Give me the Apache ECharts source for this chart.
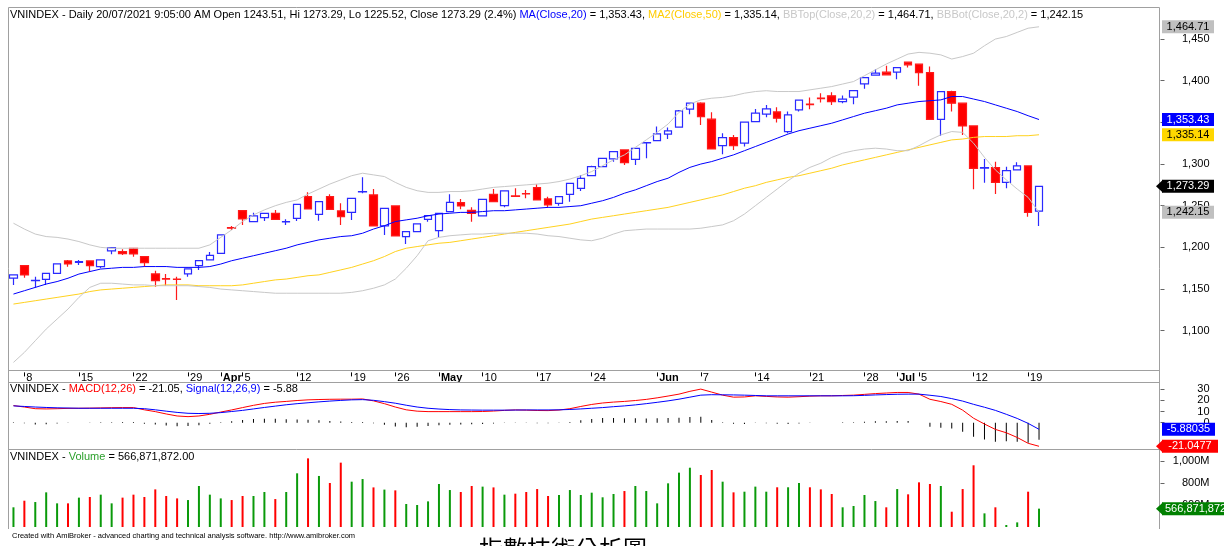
<!DOCTYPE html>
<html><head><meta charset="utf-8">
<script src="https://cdn.jsdelivr.net/npm/echarts@6/dist/echarts.min.js"></script>
<style>html,body{margin:0;padding:0;background:#fff}#c{width:1224px;height:546px}</style>
</head><body><div id="c"></div>
<script>
// ---- trading days (2021) ----
const marDays=[5,8,9,10,11,12,15,16,17,18,19,22,23,24,25,26,29,30,31];
const aprDays=[1,2,5,6,7,8,9,12,13,14,15,16,19,20,22,23,26,27,28,29];
const mayDays=[4,5,6,7,10,11,12,13,14,17,18,19,20,21,24,25,26,27,28,31];
const junDays=[1,2,3,4,7,8,9,10,11,14,15,16,17,18,21,22,23,24,25,28,29,30];
const julDays=[1,2,5,6,7,8,9,12,13,14,15,16,19,20];
// ---- x-axis tick labels ----
const tickDates=['03-08','03-15','03-22','03-29','04-01','04-05','04-12','04-19','04-26','05-04','05-10','05-17','05-24','06-01','06-07','06-14','06-21','06-28','07-01','07-05','07-12','07-19'];
const tickText=['8','15','22','29','Apr','5','12','19','26','May','10','17','24','Jun','7','14','21','28','Jul','5','12','19'];
// ---- OHLC ----
const openP=[1163,1178.1,1160,1161.7,1168.9,1183.7,1182,1183.7,1176.9,1195.7,1194.9,1198.9,1188.9,1168.1,1162.5,1162,1168.1,1178.1,1184.9,1192.9,1223.8,1244.1,1230.9,1235.7,1240.9,1230.5,1234.9,1260.9,1239.7,1260.9,1243.7,1242.1,1266.5,1262.9,1225.7,1249.7,1212.9,1218.9,1233.7,1220.1,1242.9,1253.7,1244.5,1237.7,1263.7,1250.1,1261.7,1264.5,1271.7,1258.1,1252.9,1263.7,1270.9,1286.1,1296.9,1306.1,1316.9,1305.7,1325.5,1328.1,1335.8,1344.2,1365.8,1373,1353.8,1322.1,1331.7,1325,1351,1359.8,1362.6,1339,1365,1371.8,1379,1381.8,1375,1380.2,1396.2,1406.6,1410.2,1410.2,1422.2,1419.8,1409.8,1353.7,1387,1373,1345.7,1295,1295.7,1278.1,1292.9,1297.7,1243.51];
const highP=[1167.5,1179,1164.9,1169,1181,1184.9,1185,1184.2,1185.3,1199.9,1197.7,1199.7,1189.7,1172.1,1168.1,1164.9,1174.5,1184.5,1194.5,1215.5,1225.7,1245,1241.7,1241.5,1244.9,1233.7,1252.5,1266.1,1255.3,1263.7,1252.9,1259.3,1284.1,1270.1,1247.3,1250.1,1219.3,1228.5,1238.9,1241.7,1263.7,1258.1,1248.1,1258.5,1270.1,1268.5,1270.9,1268.9,1275.7,1260.9,1261.3,1277.3,1286.9,1297.9,1307.7,1315.5,1317.7,1319.3,1326.1,1345,1343.8,1365,1373.4,1374.2,1362.2,1336.9,1335,1350.6,1366.2,1371,1368.2,1363,1377,1379.8,1385,1386.2,1382.2,1388.6,1404.2,1413.8,1417.8,1416.2,1423,1420.2,1417,1387.4,1387.8,1373.4,1346.1,1306.1,1302.9,1296.9,1302.1,1298.1,1273.29];
const lowP=[1155,1163.7,1151.7,1154.9,1168.5,1176.9,1179,1170.9,1174.9,1191.7,1190.9,1188.9,1176.9,1152.9,1153.7,1136.9,1164.9,1172.9,1184.5,1192.5,1220.9,1226.9,1230.5,1231.7,1233,1226.9,1231.7,1245.7,1232.1,1245.3,1226.9,1232.9,1264.9,1225.3,1214.9,1213.3,1204.1,1218.5,1230.9,1212.1,1242.5,1245.7,1230.9,1237.3,1254.1,1248.1,1261,1258.9,1256.5,1248.1,1250.1,1254.9,1267.7,1285.7,1296.5,1302.9,1298.9,1298.9,1306.9,1327.7,1330.1,1343.8,1359.8,1347,1317.7,1311.7,1316.9,1321,1350.6,1356.2,1349.8,1337,1363,1365.8,1373.8,1371,1373,1371.8,1390.2,1406.2,1406.6,1401.8,1415.8,1393.8,1353.3,1334.1,1363,1334.9,1269.7,1277.7,1264.1,1270.9,1292.5,1236.9,1225.52];
const closeP=[1167,1166.9,1160.3,1168.9,1180.1,1180.1,1183,1178.1,1184.9,1199.7,1192.5,1192.1,1181.7,1160.1,1162,1161.5,1174.1,1184.1,1190.5,1214.9,1223,1234.1,1237.7,1240.9,1233.7,1231,1251.7,1246.1,1254.9,1245.7,1236.9,1258.9,1266.8,1225.7,1246.9,1213.7,1218.9,1228.1,1238.1,1240.9,1254.1,1249.7,1240.9,1257.7,1254.9,1267.7,1261.3,1264.1,1256.9,1250.9,1260.9,1276.9,1282.9,1296.9,1306.9,1314.9,1301.7,1318.9,1325.8,1336.1,1339.8,1363.8,1373,1357,1318.1,1331.7,1322.1,1350.2,1361,1366.2,1355,1359,1376.6,1371.4,1378.6,1375,1377.8,1388.2,1403.8,1409,1407,1415.8,1419,1409.8,1353.7,1387,1373,1345.7,1294.9,1295.7,1278.1,1292.1,1297.7,1242.1,1273.29];
const headerChangePct='2.4';
// ---- indicator lines ----
const ma20=[1144,1148,1152,1156,1159,1163,1168,1171,1174,1175,1176,1176,1177,1177,1177,1176,1176,1176,1177,1180,1184,1187,1190,1193,1196,1199,1203,1206,1209,1211,1213,1214,1217,1222,1226,1231,1233,1235,1238,1240,1241,1242,1242,1243,1244,1244,1245,1246,1247,1248,1248,1249,1250,1253,1256,1260,1265,1269,1274,1279,1283,1290,1296,1300,1303,1307,1311,1316,1321,1326,1331,1336,1340,1343,1346,1349,1353,1357,1361,1364,1367,1371,1373,1375,1376,1377,1381,1381,1378,1375,1371,1367,1363,1358,1353.43];
const ma50=[1132,1134,1136,1138,1140,1142,1144,1147,1149,1150,1151,1152,1153,1154,1155,1155,1155,1154,1154,1154,1154,1155,1157,1159,1161,1162,1164,1166,1167,1170,1173,1176,1180,1184,1189,1195,1199,1201,1203,1205,1206,1208,1210,1212,1214,1216,1218,1220,1222,1224,1226,1228,1231,1234,1236,1238,1240,1242,1244,1246,1248,1251,1254,1257,1260,1263,1267,1271,1274,1278,1281,1284,1286,1289,1292,1295,1299,1302,1305,1308,1311,1314,1317,1320,1323,1326,1329,1330,1332,1333,1333,1333,1334,1334,1335.14];
const bbTop=[1229,1222,1216,1213,1212,1210,1207,1203,1200,1199,1199,1199,1199,1199,1199,1199,1199,1199,1203,1212,1221,1231,1239,1245,1250,1254,1257,1264,1270,1276,1281,1286,1289,1287,1285,1278,1272,1268,1266,1266,1267,1267,1268,1270,1272,1273,1274,1275,1276,1277,1279,1282,1286,1291,1298,1305,1311,1320,1329,1338,1348,1362,1372,1377,1379,1380,1382,1385,1387,1388,1387,1387,1387,1389,1391,1393,1396,1399,1406,1413,1420,1426,1432,1434,1433,1431,1426,1429,1433,1442,1450,1453,1458,1463,1464.71];
const bbBot=[1062,1074,1088,1102,1114,1126,1140,1152,1157,1157,1156,1155,1155,1154,1154,1154,1154,1153,1152,1150,1149,1148,1147,1146,1145,1145,1145,1145,1145,1145,1145,1146,1148,1151,1155,1162,1175,1190,1208,1212,1214,1215,1216,1216,1217,1217,1217,1217,1216,1214,1213,1211,1209,1208,1211,1216,1220,1221,1222,1222,1222,1222,1222,1223,1225,1227,1232,1240,1250,1260,1270,1280,1289,1296,1301,1308,1313,1316,1318,1319,1318,1316,1316,1322,1329,1335,1339,1338,1325,1308,1293,1281,1270,1260,1242.15];
// ---- MACD panel ----
const macdLine=[15.3,14,12.5,12.3,12.5,12.8,12.9,13,13.2,13.4,13.5,13.5,11.5,9.9,7.8,6,5.4,6,7.5,9.5,11.4,13.5,15.5,17.2,18.3,19,19.8,20.4,20.7,20.9,21,21,21.2,19.5,17,14,11.5,10.3,9.9,9.9,9.9,9.9,9.9,10,10.4,11,11.4,11.2,10.9,10.8,11.3,12.5,14.5,16.3,17.6,18.4,19,19.8,20.8,22.2,23.8,25.5,28,30,27.3,24.6,22.8,23,24,23.5,23,22.8,23.2,23.7,24,24,24.3,24.6,25.3,26,26.5,27,27,25.5,20.9,18.9,16.4,11.2,4,-1.2,-6,-9,-13.2,-18.4,-21.0477];
const signalLine=[15,14.5,14,13.6,13.3,13.1,12.9,12.9,12.9,12.9,12.9,12.9,12.5,11.5,10.3,9.2,8.4,8.2,8.4,9,10,11,12.3,13.6,14.8,16,17,17.8,18.6,19.3,19.9,20.4,20.6,20,18.8,17.4,15.6,14,12.9,12.2,11.7,11.4,11.3,11.2,11.2,11.2,11.3,11.4,11.4,11.4,11.5,11.8,12.3,12.9,13.5,14.3,15,15.9,17,18.2,19.5,21,22.8,24.6,25,24.9,24.8,24.6,24.3,24,24,24,24,24,24,24,24,24.1,24.4,24.8,25.1,25.4,25.5,25.5,24.5,23.4,21.5,19.3,16.4,13.8,11,7.5,3.8,-0.6,-5.88035];
const macdHist=[0.3,-0.5,-1.5,-1.3,-0.8,-0.3,0,0.1,0.3,0.5,0.6,0.6,-1,-1.6,-2.5,-3.2,-3,-2.2,-0.9,0.5,1.4,2.5,3.2,3.6,3.5,3,2.8,2.6,2.1,1.6,1.1,0.6,0.6,-0.5,-1.8,-3.4,-4.1,-3.7,-3,-2.3,-1.8,-1.5,-1.4,-1.2,-0.8,-0.2,0.1,-0.2,-0.5,-0.6,-0.2,0.7,2.2,3.4,4.1,4.1,4,3.9,3.8,4,4.3,4.5,5.2,5.4,2.3,0.3,-1,-1.2,-0.3,-0.5,-1,-1.2,-0.8,-0.3,0,0,0.3,0.5,0.9,1.2,1.4,1.6,1.5,0,-3.6,-4.5,-5.1,-8.1,-12.5,-15,-17,-16.5,-17,-17.8,-15.17];
// ---- volume (millions) ----
const volumeM=[579,639,627,715,615,615,667,673,694,615,667,694,673,742,682,660,645,773,694,660,645,682,682,718,654,718,888,1024,864,800,985,812,836,760,740,733,609,600,633,791,736,718,773,767,760,694,703,718,745,682,691,736,691,712,670,700,727,773,727,615,797,894,939,873,918,812,715,721,767,721,761,761,800,761,742,700,579,591,691,636,579,745,697,806,791,773,539,745,961,524,579,418,442,721,566.871872];
// ---- axis ticks ----
const priceTicks=[1100,1150,1200,1250,1300,1350,1400,1450];
const macdTicks=[0,10,20,30];
const volTicks=[600,800,1000];

const FONT='"Liberation Sans", Arial, sans-serif';
const dates=[].concat(
  marDays.map(d=>'03-'+String(d).padStart(2,'0')),
  aprDays.map(d=>'04-'+String(d).padStart(2,'0')),
  mayDays.map(d=>'05-'+String(d).padStart(2,'0')),
  junDays.map(d=>'06-'+String(d).padStart(2,'0')),
  julDays.map(d=>'07-'+String(d).padStart(2,'0')));
const cats=dates.concat(Array.from({length:11},(_,k)=>'pad'+k));
const tickMap={}; tickDates.forEach((d,k)=>tickMap[d]=tickText[k]);
const monthSet=new Set(['Apr','May','Jun','Jul']);
function fmt(v,d){return v.toFixed(d).replace(/\B(?=(\d{3})+(?!\d))/g,',');}

const last=closeP.length-1;
const lastO=openP[last],lastH=highP[last],lastL=lowP[last],lastC=closeP[last];

const GL=8, GR=1224-1164.5;
const chart=echarts.init(document.getElementById('c'),null,{renderer:'canvas'});
const xCommon={type:'category',data:cats,boundaryGap:true,splitLine:{show:false},axisLine:{show:false}};
const yLabel={fontSize:11,fontFamily:FONT,color:'#000',align:'right',margin:45};

const candleData=openP.map((o,i)=>[o,closeP[i],lowP[i],highP[i]]);
const volData=volumeM.map((v,i)=>({value:v,itemStyle:{color:closeP[i]>openP[i]?'#0a9a0a':'#ff0000'}}));

function lineS(data,color,x,y,z){return {type:'line',data,xAxisIndex:x,yAxisIndex:y,symbol:'none',silent:true,z:z||3,lineStyle:{color,width:1},animation:false};}

chart.setOption({
  animation:false,
  backgroundColor:'#fff',
  grid:[
    {left:GL,right:GR,top:5.7,height:366.7},
    {left:GL,right:GR,top:377.9,height:78.4},
    {left:GL,right:GR,top:439,height:88}
  ],
  xAxis:[
    Object.assign({},xCommon,{gridIndex:0,
      axisTick:{show:true,alignWithLabel:true,length:4,interval:(i,v)=>tickMap[v]!==undefined,lineStyle:{color:'#000'}},
      axisLabel:{show:true,interval:(i,v)=>tickMap[v]!==undefined,margin:0,align:'left',padding:[0,0,0,2],
        fontSize:11,fontFamily:FONT,color:'#000',
        formatter:v=>{const t=tickMap[v]; if(t===undefined) return ''; return monthSet.has(t)?'{b|'+t+'}':t;},
        rich:{b:{fontWeight:'bold',fontSize:11,fontFamily:FONT,color:'#000'}}}}),
    Object.assign({},xCommon,{gridIndex:1,axisTick:{show:false},axisLabel:{show:false}}),
    Object.assign({},xCommon,{gridIndex:2,axisTick:{show:false},axisLabel:{show:false}})
  ],
  yAxis:[
    {type:'value',gridIndex:0,position:'right',min:1050,max:1490,interval:50,scale:true,
     axisLine:{show:false},splitLine:{show:false},
     axisTick:{show:true,inside:true,length:4,customValues:priceTicks,lineStyle:{color:'#666'}},
     axisLabel:Object.assign({customValues:priceTicks,formatter:v=>fmt(v,0)},yLabel)},
    {type:'value',gridIndex:1,position:'right',min:-30,max:40,interval:10,
     axisLine:{show:false},splitLine:{show:false},
     axisTick:{show:true,inside:true,length:4,customValues:macdTicks,lineStyle:{color:'#666'}},
     axisLabel:Object.assign({customValues:macdTicks,formatter:v=>String(v)},yLabel)},
    {type:'value',gridIndex:2,position:'right',min:400,max:1200,interval:200,
     axisLine:{show:false},splitLine:{show:false},
     axisTick:{show:true,inside:true,length:4,customValues:volTicks,lineStyle:{color:'#666'}},
     axisLabel:Object.assign({customValues:volTicks,formatter:v=>fmt(v,0)+'M'},yLabel)}
  ],
  series:[
    {type:'candlestick',xAxisIndex:0,yAxisIndex:0,data:candleData,barWidth:8,z:2,silent:true,
     itemStyle:{color:'#ffffff',color0:'#ff0000',borderColor:'#2a2aff',borderColor0:'#ff1a1a',borderWidth:1.2}},
    lineS(ma20,'#0000ff',0,0,4),
    lineS(ma50,'#ffd21f',0,0,4),
    lineS(bbTop,'#c8c8c8',0,0,4),
    lineS(bbBot,'#c8c8c8',0,0,4),
    {type:'bar',xAxisIndex:1,yAxisIndex:1,data:macdHist,barWidth:1,silent:true,itemStyle:{color:'#000'},z:2},
    lineS(macdLine,'#ff0000',1,1,4),
    lineS(signalLine,'#0000ff',1,1,4),
    {type:'bar',xAxisIndex:2,yAxisIndex:2,data:volData,barWidth:2,silent:true,z:2}
  ]
});

// ---- overlay: frame, titles, value tags ----
const g=[];
const frameColor='#a0a0a0';
function hline(y,x1,x2){g.push({type:'line',shape:{x1,y1:y,x2,y2:y},style:{stroke:frameColor,lineWidth:1},z:50});}
function vline(x,y1,y2){g.push({type:'line',shape:{x1:x,y1,x2:x,y2},style:{stroke:frameColor,lineWidth:1},z:50});}
hline(7.5,8.5,1159.5); hline(370.5,8.5,1159.5); hline(382.5,8.5,1159.5); hline(449.5,8.5,1159.5);
vline(8.5,7.5,529); vline(1159.5,7.5,529);

function rtext(x,y,parts,size){
  const rich={}; let s='';
  parts.forEach((p,k)=>{rich['p'+k]={fill:p[1],fontSize:size||11,fontFamily:FONT}; s+='{p'+k+'|'+p[0]+'}';});
  g.push({type:'text',x,y,z:60,style:{text:s,rich,verticalAlign:'middle',fontSize:size||11,fontFamily:FONT}});
}
rtext(10,14.5,[
  ['VNINDEX - Daily 20/07/2021 9:05:00 AM Open '+lastO.toFixed(2)+', Hi '+lastH.toFixed(2)+', Lo '+lastL.toFixed(2)+', Close '+lastC.toFixed(2)+' ('+headerChangePct+'%) ','#000'],
  ['MA(Close,20)','#0000ff'],[' = '+fmt(ma20[last],2)+', ','#000'],
  ['MA2(Close,50)','#ffcc00'],[' = '+fmt(ma50[last],2)+', ','#000'],
  ['BBTop(Close,20,2)','#c8c8c8'],[' = '+fmt(bbTop[last],2)+', ','#000'],
  ['BBBot(Close,20,2)','#c8c8c8'],[' = '+fmt(bbBot[last],2),'#000']]);
rtext(10,389,[['VNINDEX - ','#000'],['MACD(12,26)','#ff0000'],[' = '+macdLine[last].toFixed(2)+', ','#000'],['Signal(12,26,9)','#0000ff'],[' = '+signalLine[last].toFixed(2),'#000']]);
rtext(10,457,[['VNINDEX - ','#000'],['Volume','#2ca02c'],[' = '+fmt(volumeM[last]*1e6,2),'#000']]);
g.push({type:'text',x:12,y:535.5,z:60,style:{text:'Created with AmiBroker - advanced charting and technical analysis software. http://www.amibroker.com',fill:'#000',fontSize:7.5,fontFamily:FONT,verticalAlign:'middle'}});
g.push({type:'text',x:479,y:537,z:60,style:{text:'指數技術分析圖',fill:'#000',fontSize:24,fontFamily:'"Noto Sans CJK TC", sans-serif',verticalAlign:'top'}});

function tag(yIdx,val,txt,bg,fg,arrow,w,leftAlign){
  const y=chart.convertToPixel({yAxisIndex:yIdx},val);
  const x0=1162, h=13, ww=w||52;
  if(arrow){g.push({type:'polygon',z:70,shape:{points:[[1156,y],[x0+1,y-h/2],[x0+1,y+h/2]]},style:{fill:bg}});}
  g.push({type:'rect',z:70,shape:{x:x0,y:y-h/2,width:ww,height:h},style:{fill:bg}});
  g.push({type:'text',z:71,x:leftAlign?x0+3:x0+ww/2,y:y,style:{text:txt,fill:fg,fontSize:11,fontFamily:FONT,align:leftAlign?'left':'center',verticalAlign:'middle'}});
}
tag(0,bbTop[last],fmt(bbTop[last],2),'#c0c0c0','#000',false);
tag(0,ma20[last],fmt(ma20[last],2),'#0000ff','#fff',false);
tag(0,ma50[last],fmt(ma50[last],2),'#ffd700','#000',false);
tag(0,closeP[last],fmt(closeP[last],2),'#000000','#fff',true);
tag(0,bbBot[last],fmt(bbBot[last],2),'#c0c0c0','#000',false);
tag(1,signalLine[last],signalLine[last].toFixed(5),'#0000ff','#fff',false,53);
tag(1,macdLine[last],macdLine[last].toFixed(4),'#ff0000','#fff',true,56);
tag(2,volumeM[last],fmt(volumeM[last]*1e6,0),'#008000','#fff',true,80,true);
chart.setOption({graphic:g});
</script></body></html>
